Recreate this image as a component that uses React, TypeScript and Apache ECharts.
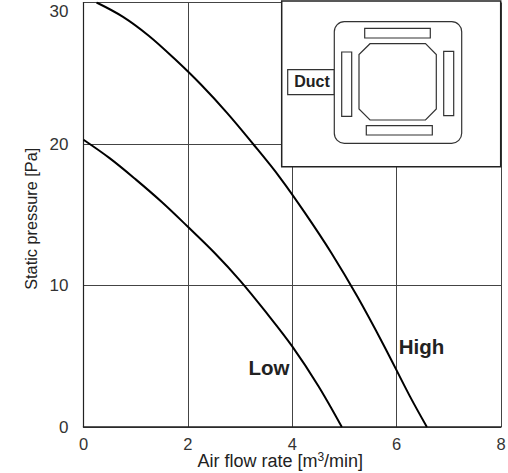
import React, { useEffect, useRef } from "react";
import * as echarts from "echarts";

const xTicks = [0, 2, 4, 6, 8];
const yTicks = [0, 10, 20, 30];
const highCurve = [[0.25, 30], [0.75, 29], [1.25, 27.65], [1.75, 26], [2.25, 24.2], [2.75, 22.2], [3.25, 20], [3.75, 17.7], [4.25, 15.1], [4.75, 12.3], [5.25, 9.2], [5.75, 5.8], [6.25, 2.2], [6.58, 0]];
const lowCurve = [[0, 20.3], [0.5, 19], [1, 17.5], [1.5, 15.9], [2, 14.15], [2.5, 12.35], [3, 10.35], [3.5, 8.1], [4, 5.7], [4.5, 2.9], [4.95, 0]];

export default function App() {
  const ref = useRef<HTMLDivElement>(null);
  useEffect(() => {
    const chart = echarts.init(ref.current!, null, { renderer: "svg" });
    const font = "'Liberation Sans', Arial, sans-serif";
    const stroke = { stroke: "#333", fill: "#fff", lineWidth: 1.2 };
    const slot = (x: number, y: number, width: number, height: number) => ({
      type: "rect", shape: { x, y, width, height }, style: { ...stroke }, z: 102,
    });
    chart.setOption({
      animation: false,
      backgroundColor: "#fff",
      grid: { left: 83.5, top: 2.5, width: 417.5, height: 424.5, containLabel: false, outerBoundsMode: "none" },
      xAxis: {
        type: "value", min: 0, max: 8, interval: 2,
        name: "Air flow rate [m{sup|3}/min]", nameLocation: "middle", nameGap: 24, nameMoveOverlap: false,
        nameTextStyle: {
          fontFamily: font, fontSize: 18, color: "#222", padding: [0, 24, 0, 0],
          rich: { sup: { fontFamily: font, fontSize: 12, color: "#222", padding: [0, 0, 7, 0] } },
        },
        axisLine: { show: true, onZero: false, lineStyle: { color: "#222", width: 1.5 } },
        axisTick: { show: false },
        axisLabel: { fontFamily: font, fontSize: 16.5, color: "#333", margin: 8, showMaxLabel: true },
        splitLine: { show: true, lineStyle: { color: "#444", width: 1 } },
      },
      yAxis: {
        type: "value", min: 0, max: 30, interval: 10,
        name: "Static pressure [Pa]", nameLocation: "middle", nameGap: 45, nameRotate: 90, nameMoveOverlap: false,
        nameTextStyle: { fontFamily: font, fontSize: 16.3, color: "#222", padding: [0, 8, 0, 0] },
        axisLine: { show: true, lineStyle: { color: "#222", width: 1.2 } },
        axisTick: { show: false },
        axisLabel: { fontFamily: font, fontSize: 17, color: "#333", margin: 15, verticalAlignMaxLabel: "top" },
        splitLine: { show: true, lineStyle: { color: "#444", width: 1 } },
      },
      series: [
        { type: "line", name: "High", data: highCurve, smooth: 0.35, showSymbol: false, lineStyle: { color: "#000", width: 2 } },
        { type: "line", name: "Low", data: lowCurve, smooth: 0.35, showSymbol: false, lineStyle: { color: "#000", width: 2 } },
      ],
      graphic: [
        { type: "rect", shape: { x: 281.7, y: 1, width: 219, height: 165.7 }, style: { stroke: "#222", fill: "#fff", lineWidth: 1.5 }, z: 100 },
        { type: "rect", shape: { x: 287.7, y: 69.7, width: 46.6, height: 25 }, style: { ...stroke }, z: 101 },
        { type: "rect", shape: { x: 334.3, y: 21.7, width: 127.4, height: 121.6, r: 10 }, style: { ...stroke }, z: 101 },
        slot(364.7, 28.3, 65.6, 9.7),
        slot(366.3, 125.7, 66, 9.3),
        slot(341.7, 52, 10, 64.3),
        slot(443.7, 51.3, 10, 64.4),
        {
          type: "polygon", z: 102, style: { ...stroke },
          shape: { points: [[370, 43.7], [425.5, 43.7], [436.3, 54.5], [436.3, 109], [425.5, 120], [370, 120], [359, 109], [359, 54.5]] },
        },
        { type: "text", x: 312, y: 81, z: 103, style: { text: "Duct", font: `bold 16px ${font}`, fill: "#222", textAlign: "center", textVerticalAlign: "middle" } },
        { type: "text", x: 269, y: 367, z: 103, style: { text: "Low", font: `bold 20.5px ${font}`, fill: "#222", textAlign: "center", textVerticalAlign: "middle" } },
        { type: "text", x: 421.5, y: 346, z: 103, style: { text: "High", font: `bold 20.5px ${font}`, fill: "#222", textAlign: "center", textVerticalAlign: "middle" } },
      ],
    });
    return () => chart.dispose();
  }, []);
  return <div ref={ref} style={{ position: "absolute", left: 0, top: 0, width: 508, height: 473 }} />;
}
